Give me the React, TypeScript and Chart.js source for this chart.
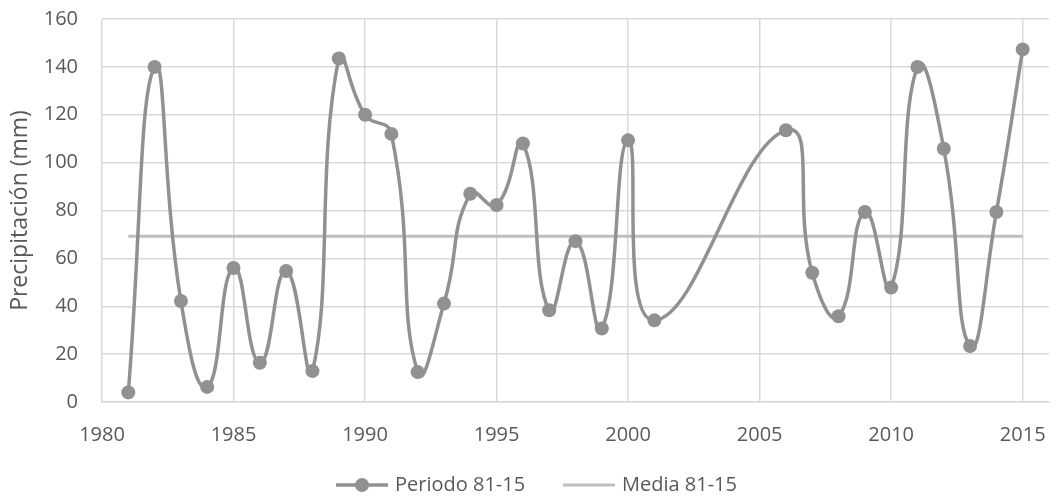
import React, { useEffect, useRef } from "react";
import { Chart, registerables } from "chart.js";

Chart.register(...registerables);

const years = [1981, 1982, 1983, 1984, 1985, 1986, 1987, 1988, 1989, 1990, 1991, 1992, 1993, 1994, 1995, 1996, 1997, 1998, 1999, 2000, 2001, 2006, 2007, 2008, 2009, 2010, 2011, 2012, 2013, 2014, 2015];
const precip = [4, 140, 42.2, 6.3, 56, 16.4, 54.7, 12.9, 143.5, 120, 112, 12.5, 41.1, 87, 82.3, 108, 38.3, 67.2, 30.7, 109.3, 34.1, 113.5, 54, 35.8, 79.4, 47.8, 140, 105.8, 23.4, 79.4, 147.3];
const meanYears = [1981, 2015];
const meanValue = 69.2;
const xTicks = [1980, 1985, 1990, 1995, 2000, 2005, 2010, 2015];
const seriesLabels = ["Periodo 81-15", "Media 81-15"];

const FONT = "'Open Sans', sans-serif";
const TEXT = "#595959";
const SERIES = "#919191";
const MEAN = "#bfbfbf";
const GRID = "#d9d9d9";

const legendPlugin = {
  id: "customLegend",
  afterDraw(chart: any) {
    const ctx = chart.ctx;
    const y = 485;
    ctx.save();
    ctx.lineCap = "butt";
    ctx.strokeStyle = SERIES;
    ctx.lineWidth = 3.5;
    ctx.beginPath();
    ctx.moveTo(336, y);
    ctx.lineTo(388, y);
    ctx.stroke();
    ctx.fillStyle = SERIES;
    ctx.beginPath();
    ctx.arc(362, y, 7, 0, Math.PI * 2);
    ctx.fill();
    ctx.fillStyle = TEXT;
    ctx.font = `20px ${FONT}`;
    ctx.textBaseline = "middle";
    ctx.textAlign = "left";
    ctx.fillText(seriesLabels[0], 395, y);
    ctx.strokeStyle = MEAN;
    ctx.lineWidth = 3;
    ctx.beginPath();
    ctx.moveTo(563, y);
    ctx.lineTo(615, y);
    ctx.stroke();
    ctx.fillText(seriesLabels[1], 622, y);
    ctx.restore();
  },
};

export default function App() {
  const ref = useRef<HTMLCanvasElement>(null);
  useEffect(() => {
    const canvas = ref.current!;
    const chart = new Chart(canvas, {
      type: "line",
      data: {
        datasets: [
          {
            label: seriesLabels[0],
            data: years.map((x, i) => ({ x, y: precip[i] })),
            borderColor: SERIES,
            backgroundColor: SERIES,
            borderWidth: 3.5,
            pointRadius: 7,
            pointBackgroundColor: SERIES,
            pointBorderWidth: 0,
            tension: 0.5,
            fill: false,
          },
          {
            label: seriesLabels[1],
            data: meanYears.map((x) => ({ x, y: meanValue })),
            borderColor: MEAN,
            borderWidth: 3,
            pointRadius: 0,
            fill: false,
          },
        ],
      },
      options: {
        responsive: false,
        animation: false,
        layout: { padding: { top: 19, right: 7, bottom: 54, left: 0 } },
        plugins: { legend: { display: false }, tooltip: { enabled: false } },
        scales: {
          x: {
            type: "linear",
            min: 1980,
            max: 2016,
            afterBuildTicks: (scale: any) => {
              scale.ticks = xTicks.map((v) => ({ value: v }));
            },
            afterFit: (scale: any) => {
              scale.height = 46;
              scale.paddingLeft = 0;
              scale.paddingRight = 0;
            },
            grid: { color: GRID, lineWidth: 1.5, drawTicks: false },
            border: { color: GRID, width: 1.5 },
            ticks: {
              color: TEXT,
              font: { family: FONT, size: 20 },
              padding: 21,
              maxRotation: 0,
              autoSkip: false,
              callback: (v: any) => String(v),
            },
          },
          y: {
            min: 0,
            max: 160,
            afterFit: (scale: any) => {
              scale.width = 102;
              scale.paddingTop = 0;
              scale.paddingBottom = 0;
            },
            grid: { color: GRID, lineWidth: 1.5, drawTicks: false },
            border: { display: false },
            ticks: {
              stepSize: 20,
              color: TEXT,
              font: { family: FONT, size: 20 },
              padding: 24,
            },
            title: {
              display: true,
              text: "Precipitación (mm)",
              color: TEXT,
              font: { family: FONT, size: 23, weight: "normal" },
              padding: { top: 7, bottom: 0 },
            },
          },
        },
      },
      plugins: [legendPlugin],
    });
    return () => chart.destroy();
  }, []);
  return (
    <div style={{ position: "fixed", left: 0, top: 0, width: 1056, height: 502, background: "#fff" }}>
      <canvas ref={ref} width={1056} height={502} style={{ display: "block" }} />
    </div>
  );
}
